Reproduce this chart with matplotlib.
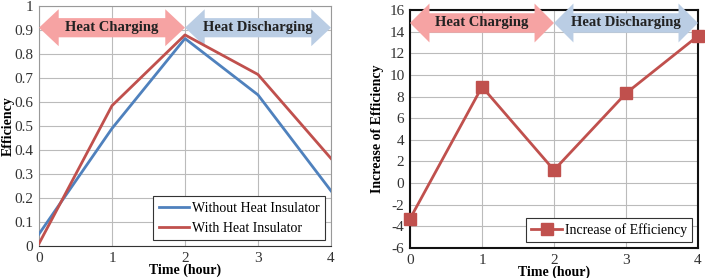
import matplotlib
matplotlib.use('Agg')
import matplotlib.pyplot as plt
from matplotlib.patches import Polygon
from matplotlib.ticker import FuncFormatter

hours = [0, 1, 2, 3, 4]
eff_without = [0.05, 0.49, 0.865, 0.63, 0.23]
eff_with = [0.01, 0.585, 0.88, 0.715, 0.365]
eff_increase = [-3.3, 8.9, 1.2, 8.3, 13.6]

phases = ['Heat Charging', 'Heat Discharging']
phase_spans = [(0, 2), (2, 4)]
phase_colors = ['#F6A3A3', '#BACDE4']

plt.rcParams['font.family'] = ['Liberation Serif', 'DejaVu Serif']
plt.rcParams['font.size'] = 10
plt.rcParams['axes.unicode_minus'] = False


def double_arrow(ax, x0, x1, yc, body, head, hlen, color, label):
    pts = [(x0, yc), (x0 + hlen, yc + head), (x0 + hlen, yc + body),
           (x1 - hlen, yc + body), (x1 - hlen, yc + head), (x1, yc),
           (x1 - hlen, yc - head), (x1 - hlen, yc - body),
           (x0 + hlen, yc - body), (x0 + hlen, yc - head)]
    ax.add_patch(Polygon(pts, closed=True, facecolor=color, edgecolor='none',
                         clip_on=False, zorder=3))
    ax.text((x0 + x1) / 2, yc, label, ha='center', va='center',
            fontweight='bold', fontsize=10.5, color='#222222', zorder=4)


def style_axes(ax, spine_color, spine_width):
    ax.grid(True, color='#BBBBBB', linewidth=0.8)
    ax.set_axisbelow(True)
    for s in ax.spines.values():
        s.set_color(spine_color)
        s.set_linewidth(spine_width)
    ax.tick_params(length=0, pad=4, labelsize=11, labelcolor='#333333')
    ax.set_xlim(0, 4)
    ax.set_xticks(hours)
    ax.set_xlabel('Time (hour)', fontweight='bold', labelpad=-1)


fig = plt.figure(figsize=(7.05, 2.78), dpi=100)

# left chart: efficiency
ax1 = fig.add_axes([0.0553, 0.115, 0.4142, 0.863])
style_axes(ax1, '#999999', 0.8)
ax1.spines['bottom'].set_color('#333333')
ax1.set_ylim(0, 1)
ax1.set_yticks([i / 10 for i in range(11)])
ax1.yaxis.set_major_formatter(FuncFormatter(lambda v, p: f'{v:g}'))
ax1.plot(hours, eff_without, color='#4F81BD', lw=2, label='Without Heat Insulator', zorder=5)
ax1.plot(hours, eff_with, color='#C0504D', lw=2, label='With Heat Insulator', zorder=5)
for name, (a, b), c in zip(phases, phase_spans, phase_colors):
    double_arrow(ax1, a, b, 0.91, 0.04, 0.077, 0.27, c, name)
leg = ax1.legend(loc='lower right', fancybox=False, edgecolor='#333333',
                 framealpha=1, handlelength=2.2, borderaxespad=0.4,
                 handletextpad=0.2, fontsize=10)
leg.get_frame().set_linewidth(0.8)
ax1.set_ylabel('Efficiency', fontweight='bold', labelpad=0)

# right chart: increase of efficiency
ax2 = fig.add_axes([0.5816, 0.108, 0.4084, 0.856])
style_axes(ax2, '#111111', 1.5)
ax2.set_ylim(-6, 16)
ax2.set_yticks(range(-6, 17, 2))
ax2.plot(hours, eff_increase, color='#C0504D', lw=2, marker='s', ms=8,
         label='Increase of Efficiency', zorder=5, clip_on=False)
for name, (a, b), c in zip(phases, phase_spans, phase_colors):
    double_arrow(ax2, a, b, 14.8, 0.9, 1.8, 0.27, c, name)
leg2 = ax2.legend(loc='lower right', fancybox=False, edgecolor='#333333',
                  framealpha=1, handlelength=2.2, borderaxespad=0.4,
                  handletextpad=0.2, fontsize=10)
leg2.get_frame().set_linewidth(0.8)
ax2.set_ylabel('Increase of Efficiency', fontweight='bold', labelpad=4)

fig.savefig('out.png', dpi=100)
